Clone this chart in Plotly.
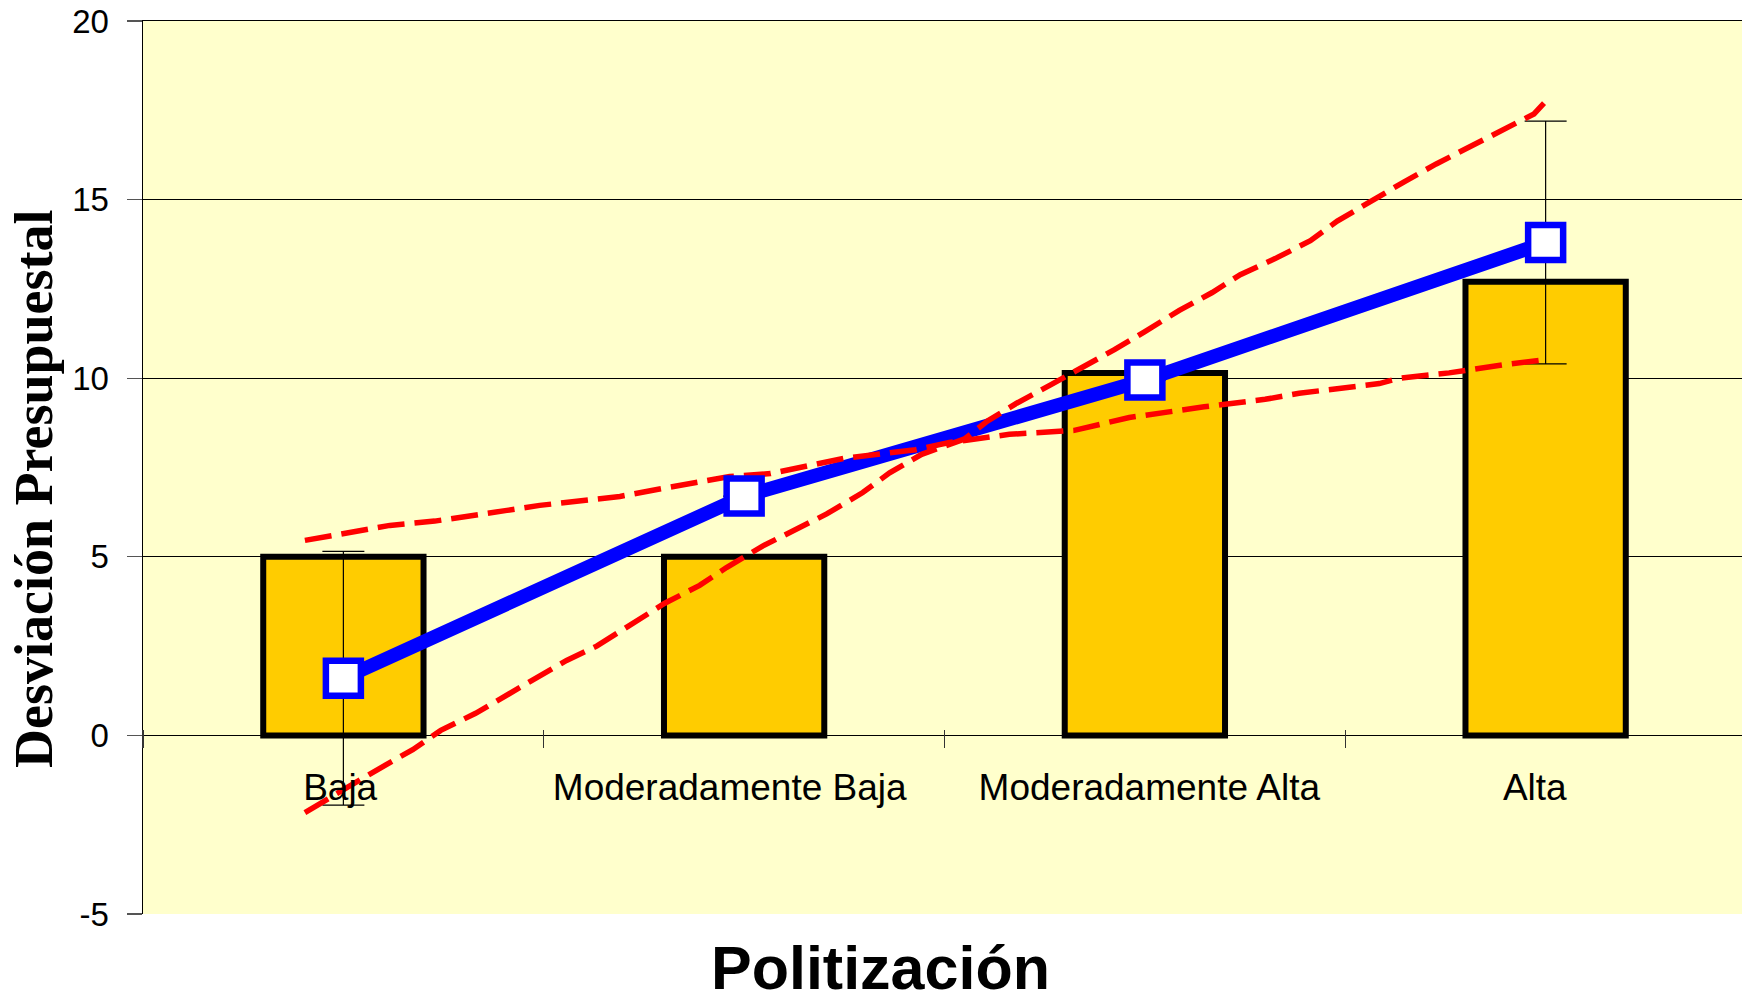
import plotly.graph_objects as go

categories = ["Baja", "Moderadamente Baja", "Moderadamente Alta", "Alta"]
cat_pos = [0, 1, 2, 3]
bar_values = [5.0, 5.0, 10.15, 12.7]
line_values = [1.6, 6.7, 9.95, 13.8]
line_err = [3.55, 0, 0, 3.4]

# red dashed band A (flat one)
bandA_x = [-0.096, 0.016, 0.116, 0.228, 0.315, 0.408, 0.490, 0.690, 0.789, 0.872, 0.964,
           1.066, 1.163, 1.251, 1.353, 1.428, 1.512, 1.662, 1.824, 1.961, 2.148, 2.300,
           2.385, 2.485, 2.585, 2.635, 2.759, 2.902, 2.984]
bandA_y = [5.46, 5.7, 5.88, 6.0, 6.16, 6.3, 6.44, 6.69, 6.9, 7.05, 7.25,
           7.33, 7.56, 7.76, 7.9, 8.0, 8.2, 8.43, 8.54, 8.9, 9.2, 9.41,
           9.58, 9.7, 9.85, 10.0, 10.15, 10.39, 10.5]
# red dashed band B (steep one)
bandB_x = [-0.096, -0.071, 0.091, 0.173, 0.243, 0.330, 0.418, 0.478, 0.557, 0.632, 0.739,
           0.802, 0.889, 0.956, 1.046, 1.118, 1.206, 1.296, 1.363, 1.443, 1.550, 1.607,
           1.680, 1.767, 1.854, 1.924, 1.999, 2.086, 2.168, 2.238, 2.325, 2.413, 2.480,
           2.555, 2.647, 2.727, 2.797, 2.884, 2.971, 2.996]
bandB_y = [-2.16, -1.99, -0.92, -0.4, 0.14, 0.62, 1.2, 1.6, 2.1, 2.5, 3.25,
           3.7, 4.2, 4.7, 5.3, 5.7, 6.2, 6.8, 7.35, 7.87, 8.3, 8.8,
           9.3, 9.83, 10.36, 10.8, 11.3, 11.9, 12.4, 12.9, 13.35, 13.85, 14.4,
           14.9, 15.5, 16.0, 16.4, 16.9, 17.4, 17.7]

y_ticks = [-5, 0, 5, 10, 15, 20]
y_tick_text = ["-5", "0", "5", "10", "15", "20"]
boundaries = [-0.5, 0.5, 1.5, 2.5, 3.5]

# small horizontal nudges of the category labels (as in the original rendering)
label_nudge = [-0.008, -0.036, 0.011, -0.027]

fig = go.Figure()

fig.add_trace(go.Bar(
    x=cat_pos, y=bar_values, width=0.4,
    marker=dict(color="#FFCC00", line=dict(color="black", width=6)),
    showlegend=False, hoverinfo="skip"))

fig.add_trace(go.Scatter(
    x=cat_pos, y=line_values, mode="lines",
    line=dict(color="#0000FF", width=14),
    error_y=dict(type="data", array=line_err, visible=True,
                 color="black", thickness=1.2, width=21),
    showlegend=False, hoverinfo="skip"))

for bx, by in [(bandA_x, bandA_y), (bandB_x, bandB_y)]:
    fig.add_trace(go.Scatter(
        x=bx, y=by, mode="lines",
        line=dict(color="#FF0000", width=5.5, dash="27px,10px"),
        showlegend=False, hoverinfo="skip"))

fig.add_trace(go.Scatter(
    x=cat_pos, y=line_values, mode="markers",
    marker=dict(symbol="square", size=35, color="white",
                line=dict(color="#0000FF", width=6.5)),
    showlegend=False, hoverinfo="skip"))

# invisible traces on helper axes (boundary ticks, top border)
fig.add_trace(go.Scatter(x=[None], y=[None], xaxis="x2", showlegend=False, hoverinfo="skip"))
fig.add_trace(go.Scatter(x=[None], y=[None], xaxis="x3", showlegend=False, hoverinfo="skip"))

zero_pos = 5 / 25
W, H = 1742, 1001
PL, PR, PT, PB = 143, 1742, 21, 914  # plot area in page pixels

fig.update_layout(
    width=W, height=H,
    margin=dict(l=PL, r=W - PR, t=PT, b=H - PB),
    paper_bgcolor="white",
    plot_bgcolor="#FFFFCC",
    font=dict(family="Liberation Sans, Arial, sans-serif", color="black"),
    hovermode=False,
    xaxis=dict(
        range=[-0.5, 3.49], anchor="free", position=zero_pos,
        tickmode="array", tickvals=[p + d for p, d in zip(cat_pos, label_nudge)],
        ticktext=categories,
        ticks="", showline=False, showgrid=False, zeroline=False,
        tickfont=dict(size=37, family="Liberation Sans, Arial, sans-serif"),
        ticklabelstandoff=27,
    ),
    xaxis2=dict(
        overlaying="x", matches="x", anchor="free", position=zero_pos + 6 / 893,
        tickmode="array", tickvals=boundaries, showticklabels=False,
        ticks="outside", ticklen=18, tickcolor="#333", tickwidth=1.2,
        showline=False, showgrid=False, zeroline=False,
    ),
    xaxis3=dict(
        overlaying="x", matches="x", anchor="y", side="top",
        showticklabels=False, ticks="", showgrid=False, zeroline=False,
        showline=True, linecolor="black", linewidth=1.2,
    ),
    yaxis=dict(
        range=[-5.0005, 20.002], tickmode="array", tickvals=y_ticks, ticktext=y_tick_text,
        showgrid=True, gridcolor="black", gridwidth=1,
        zeroline=True, zerolinecolor="black", zerolinewidth=1.2,
        showline=True, linecolor="black", linewidth=1.5,
        ticks="outside", ticklen=15, tickcolor="#555", tickwidth=1.2,
        tickfont=dict(size=33),
        ticklabelstandoff=11,
        ticklabeloverflow="allow",
    ),
    annotations=[
        dict(
            text="<b>Politización</b>", xref="paper", yref="paper",
            x=(880 - PL) / (PR - PL), y=-(968 - PB) / (PB - PT),
            xanchor="center", yanchor="middle", showarrow=False,
            font=dict(size=61, family="Liberation Sans, Arial, sans-serif", color="black"),
        ),
        dict(
            text="<b>Desviación Presupuestal</b>", xref="paper", yref="paper",
            x=(34 - PL) / (PR - PL), y=(PB - 489) / (PB - PT),
            xanchor="center", yanchor="middle", textangle=-90, showarrow=False,
            font=dict(size=54, family="Liberation Serif, Times New Roman, serif", color="black"),
        ),
    ],
)

fig.write_html("out.html",
               config={"displayModeBar": False, "staticPlot": True},
               post_script="document.body.style.margin='0px';document.body.style.overflow='hidden';")
